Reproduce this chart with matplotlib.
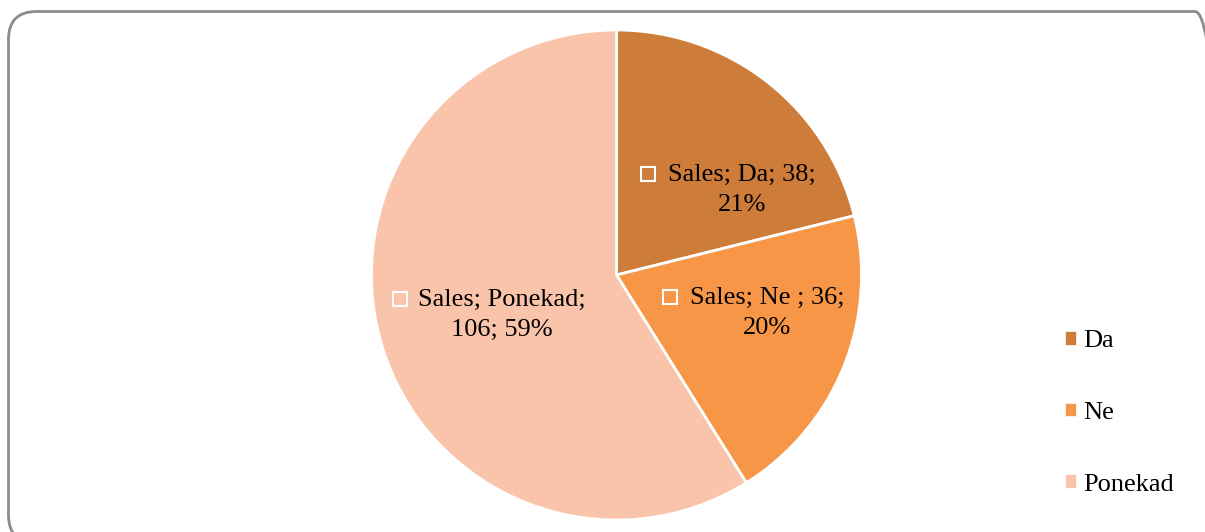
import matplotlib.pyplot as plt
from matplotlib import font_manager as fm
from matplotlib.patches import FancyBboxPatch, Patch

categories = ['Da', 'Ne', 'Ponekad']
values = [38, 36, 106]
percents = [21, 20, 59]
series_name = 'Sales'
label_names = ['Da', 'Ne ', 'Ponekad']
colors = ['#CD7C3A', '#F79646', '#F9C4AA']

# pick the Times-like serif file directly
serif_name = 'Liberation Serif'
for f in fm.findSystemFonts():
    if 'LiberationSerif-Regular' in f:
        fm.fontManager.addfont(f)
        serif_name = fm.FontProperties(fname=f).get_name()
        break
plt.rcParams['font.family'] = [serif_name, 'DejaVu Serif']

W, H = 1205, 532
fig = plt.figure(figsize=(W / 100, H / 100), dpi=100)
ax = fig.add_axes([0, 0, 1, 1])

# pixel-like coordinates, y up
cx, cy, r = 616.5, H - 275, 245
wedges, _ = ax.pie(values, colors=colors, startangle=90, counterclock=False,
                   center=(cx, cy), radius=r,
                   wedgeprops=dict(edgecolor='white', linewidth=2))
ax.set_xlim(0, W)
ax.set_ylim(0, H)
ax.set_aspect('equal')
ax.axis('off')

# rounded outer border
border = FancyBboxPatch((8.5, -11), 1214.5, H - 11.5 + 11,
                        boxstyle='round,pad=0,rounding_size=28',
                        facecolor='none', edgecolor='#8c8c8c', linewidth=2,
                        clip_on=False)
ax.add_patch(border)

# data labels: (text center x, top line y, marker x) in pixels from top
label_pos = [(742, 175, 648), (767, 298, 670), (502, 300, 400)]
line_gap = 30
for i, (tx, ty, mx) in enumerate(label_pos):
    pct = f'{percents[i]}%'
    if categories[i] == 'Ponekad':
        l1 = f'{series_name}; {label_names[i]};'
        l2 = f'{values[i]}; {pct}'
    else:
        l1 = f'{series_name}; {label_names[i]}; {values[i]};'
        l2 = pct
    ax.text(tx, H - ty, l1, ha='center', va='center', fontsize=19, color='black')
    ax.text(tx, H - ty - line_gap, l2, ha='center', va='center', fontsize=19, color='black')
    ax.plot(mx, H - ty + 1, marker='s', markersize=9.5, markerfacecolor=colors[i],
            markeredgecolor='white', markeredgewidth=1.5)

handles = [Patch(facecolor=c, edgecolor='white', linewidth=0.5) for c in colors]
leg = ax.legend(handles, categories, loc='center left',
                bbox_to_anchor=(1065 / W, 1 - 413 / H), frameon=False,
                fontsize=19, labelspacing=1.88, handlelength=0.42,
                handleheight=0.42, handletextpad=0.27, borderpad=0,
                borderaxespad=0)

fig.savefig('out.png', dpi=100)
